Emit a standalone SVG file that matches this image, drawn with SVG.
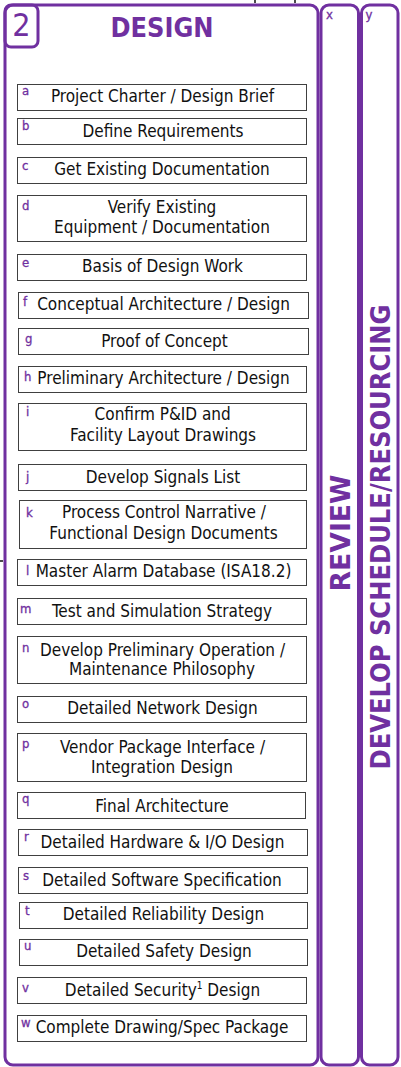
<svg xmlns="http://www.w3.org/2000/svg" width="401" height="1067" viewBox="0 0 401 1067">
<style>
.frame{fill:none;stroke:#7030A0;stroke-width:3}
.box{fill:#fff;stroke:#404040;stroke-width:1}
.t{font-family:"DejaVu Sans Condensed","DejaVu Sans",sans-serif;font-size:17px;fill:#111;text-anchor:middle}
.lbl{font-family:"DejaVu Sans Condensed","DejaVu Sans",sans-serif;font-size:13px;fill:#7030A0;stroke:#7030A0;stroke-width:0.3}
.big{font-family:"DejaVu Sans Condensed","DejaVu Sans",sans-serif;font-weight:bold;fill:#7030A0;text-anchor:middle}
</style>
<rect width="401" height="1067" fill="#fff"/>
<g id="connectors" stroke="#111" stroke-width="1.5">
<line x1="255" y1="0" x2="255" y2="3"/>
<line x1="295" y1="0" x2="295" y2="3"/>
<line x1="0" y1="561" x2="3" y2="561"/>
</g>
<g id="frame-design">
<rect class="frame" x="5" y="5" width="313" height="1060" rx="8"/>
<rect class="frame" x="5" y="5" width="33" height="42" rx="6"/>
<text x="21.5" y="36" font-family="DejaVu Sans Condensed, DejaVu Sans, sans-serif" font-size="32" fill="#7030A0" text-anchor="middle">2</text>
<text class="big" x="162" y="37" font-size="26" textLength="103" lengthAdjust="spacingAndGlyphs">DESIGN</text>
</g>
<g id="col-review">
<rect class="frame" x="321" y="5" width="37.5" height="1060" rx="8"/>
<text class="lbl" x="326" y="18.5" font-size="12">x</text>
<text class="big" transform="translate(350,533) rotate(-90)" x="0" y="0" font-size="27" textLength="117" lengthAdjust="spacingAndGlyphs">REVIEW</text>
</g>
<g id="col-schedule">
<rect class="frame" x="361.5" y="5" width="36.5" height="1060" rx="8"/>
<text class="lbl" x="365.5" y="18.5" font-size="12">y</text>
<text class="big" transform="translate(390,537) rotate(-90)" x="0" y="0" font-size="27" textLength="465" lengthAdjust="spacingAndGlyphs">DEVELOP SCHEDULE/RESOURCING</text>
</g>
<g id="a"><rect class="box" x="17.5" y="84.5" width="289" height="26"/><text class="lbl" x="22" y="95">a</text><text class="t" x="162.5" y="101.7">Project Charter / Design Brief</text></g>
<g id="b"><rect class="box" x="17.5" y="118.5" width="289" height="26"/><text class="lbl" x="22" y="130">b</text><text class="t" x="163" y="136.7">Define Requirements</text></g>
<g id="c"><rect class="box" x="17.5" y="157.5" width="289" height="26"/><text class="lbl" x="22" y="170">c</text><text class="t" x="162" y="175">Get Existing Documentation</text></g>
<g id="d"><rect class="box" x="17.5" y="195.5" width="289" height="46"/><text class="lbl" x="22" y="210">d</text><text class="t" x="162" y="212.7">Verify Existing</text><text class="t" x="162" y="233.3">Equipment / Documentation</text></g>
<g id="e"><rect class="box" x="17.5" y="254.5" width="289" height="26"/><text class="lbl" x="22" y="267">e</text><text class="t" x="162.5" y="272.3">Basis of Design Work</text></g>
<g id="f"><rect class="box" x="18.5" y="292.5" width="290" height="26"/><text class="lbl" x="23" y="306">f</text><text class="t" x="163.5" y="310">Conceptual Architecture / Design</text></g>
<g id="g"><rect class="box" x="18.5" y="328.5" width="290" height="26"/><text class="lbl" x="25" y="343">g</text><text class="t" x="164.5" y="347.3">Proof of Concept</text></g>
<g id="h"><rect class="box" x="18.5" y="366.5" width="288" height="26"/><text class="lbl" x="24" y="380.5">h</text><text class="t" x="163.5" y="384">Preliminary Architecture / Design</text></g>
<g id="i"><rect class="box" x="18.5" y="403.5" width="288" height="47"/><text class="lbl" x="26" y="416">i</text><text class="t" x="162.7" y="420">Confirm P&amp;ID and</text><text class="t" x="163" y="441">Facility Layout Drawings</text></g>
<g id="j"><rect class="box" x="18.5" y="464.5" width="288" height="26"/><text class="lbl" x="26" y="481">j</text><text class="t" x="163" y="482.7">Develop Signals List</text></g>
<g id="k"><rect class="box" x="19.5" y="500.5" width="287" height="48"/><text class="lbl" x="26" y="516.5">k</text><text class="t" x="164" y="518.3">Process Control Narrative /</text><text class="t" x="163.5" y="539">Functional Design Documents</text></g>
<g id="l"><rect class="box" x="17.5" y="559.5" width="289" height="26"/><text class="lbl" x="26" y="575">l</text><text class="t" x="163.5" y="577.3">Master Alarm Database (ISA18.2)</text></g>
<g id="m"><rect class="box" x="17.5" y="598.5" width="289" height="26"/><text class="lbl" x="20" y="613">m</text><text class="t" x="162" y="616.7">Test and Simulation Strategy</text></g>
<g id="n"><rect class="box" x="17.5" y="636.5" width="289" height="47"/><text class="lbl" x="22" y="651.5">n</text><text class="t" x="162.5" y="656">Develop Preliminary Operation /</text><text class="t" x="162" y="675">Maintenance Philosophy</text></g>
<g id="o"><rect class="box" x="17.5" y="696.5" width="289" height="26"/><text class="lbl" x="22" y="708.3">o</text><text class="t" x="162.5" y="714">Detailed Network Design</text></g>
<g id="p"><rect class="box" x="17.5" y="733.5" width="289" height="48"/><text class="lbl" x="22" y="748">p</text><text class="t" x="162.5" y="753.3">Vendor Package Interface /</text><text class="t" x="162" y="773.3">Integration Design</text></g>
<g id="q"><rect class="box" x="17.5" y="792.5" width="288" height="26"/><text class="lbl" x="22" y="803">q</text><text class="t" x="162" y="811.7">Final Architecture</text></g>
<g id="r"><rect class="box" x="18.5" y="829.5" width="289" height="26"/><text class="lbl" x="24" y="841">r</text><text class="t" x="162.5" y="848">Detailed Hardware &amp; I/O Design</text></g>
<g id="s"><rect class="box" x="18.5" y="867.5" width="289" height="26"/><text class="lbl" x="23" y="880">s</text><text class="t" x="162" y="885.5">Detailed Software Specification</text></g>
<g id="t"><rect class="box" x="19.5" y="902.5" width="288" height="26"/><text class="lbl" x="25" y="915">t</text><text class="t" x="163.5" y="920">Detailed Reliability Design</text></g>
<g id="u"><rect class="box" x="19.5" y="939.5" width="288" height="26"/><text class="lbl" x="24" y="950">u</text><text class="t" x="164" y="957">Detailed Safety Design</text></g>
<g id="v"><rect class="box" x="17.5" y="977.5" width="289" height="26"/><text class="lbl" x="22" y="991.7">v</text><text class="t" x="162.5" y="996">Detailed Security<tspan font-size="10" dy="-7">1</tspan><tspan dy="7"> Design</tspan></text></g>
<g id="w"><rect class="box" x="17.5" y="1015.5" width="289" height="26"/><text class="lbl" x="21" y="1027" font-size="12">w</text><text class="t" x="162" y="1033.3">Complete Drawing/Spec Package</text></g>
</svg>
